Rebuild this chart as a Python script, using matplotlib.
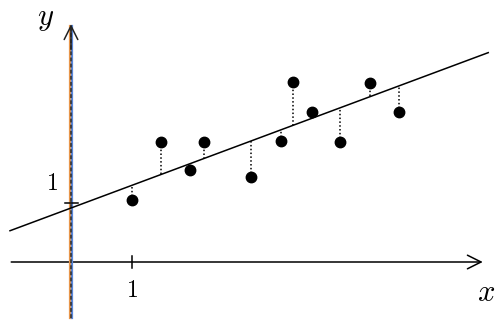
import matplotlib
matplotlib.use("Agg")
import matplotlib.pyplot as plt
import matplotlib.transforms as mtransforms
from matplotlib.patches import FancyArrowPatch

plt.rcParams['mathtext.fontset'] = 'cm'

# observed points
x_pts = [1.0, 1.48, 1.95, 2.18, 2.95, 3.44, 3.64, 3.95, 4.41, 4.90, 5.38]
y_pts = [1.05, 2.03, 1.56, 2.03, 1.44, 2.05, 3.05, 2.54, 2.03, 3.03, 2.54]

# fitted line y = a + b x
intercept = 0.915
slope = 0.385
line_x = [-1.0, 6.84]

fig = plt.figure(figsize=(4.96, 3.24), dpi=100)
ax = fig.add_axes([0, 0, 1, 1])
ax.set_xlim(-71 / 61, 425 / 61)
ax.set_ylim(-62 / 59, 262 / 59)
ax.axis('off')

# regression line
ax.plot(line_x, [intercept + slope * v for v in line_x], color='black', lw=1.1, zorder=3)

# residuals as dotted verticals
for xv, yv in zip(x_pts, y_pts):
    ax.plot([xv, xv], [yv, intercept + slope * xv], color='black', lw=1.1,
            linestyle=(0, (1, 1.5)), zorder=2)

ax.plot(x_pts, y_pts, 'o', color='black', ms=7.5, zorder=4)

# x axis with open arrow head
ax.add_patch(FancyArrowPatch((-0.98, 0), (6.75, 0), arrowstyle='->,head_length=0.7,head_width=0.35',
                             color='black', lw=1.1, mutation_scale=14, shrinkA=0, shrinkB=0))

# y axis: fringed dashed line
left = ax.transData + mtransforms.ScaledTranslation(-1.3 / 100, 0, fig.dpi_scale_trans)
right = ax.transData + mtransforms.ScaledTranslation(1.3 / 100, 0, fig.dpi_scale_trans)
ax.plot([0, 0], [-0.95, 4.0], color='#e8964a', lw=1.6, transform=left, zorder=1)
ax.plot([0, 0], [-0.95, 4.0], color='#5a86d6', lw=1.6, transform=right, zorder=1)
ax.plot([0, 0], [-0.95, 4.0], color='#2a2a2a', lw=1.1, linestyle=(0, (2.5, 1.5)), zorder=1)
ax.add_patch(FancyArrowPatch((0, 3.6), (0, 4.03), arrowstyle='->,head_length=0.7,head_width=0.35',
                             color='#222222', lw=1.1, mutation_scale=14, shrinkA=0, shrinkB=0))

# unit ticks
ax.plot([1, 1], [-0.1, 0.1], color='black', lw=1.1)
ax.plot([-0.1, 0.11], [1, 1], color='black', lw=1.1)

ax.text(1, -0.47, '$1$', fontsize=17, ha='center', va='center')
ax.text(-0.31, 1.34, '$1$', fontsize=17, ha='center', va='center')
ax.text(6.8, -0.51, '$x$', fontsize=22, ha='center', va='center')
ax.text(-0.41, 4.12, '$y$', fontsize=22, ha='center', va='center')

fig.savefig('out.png', dpi=100)
